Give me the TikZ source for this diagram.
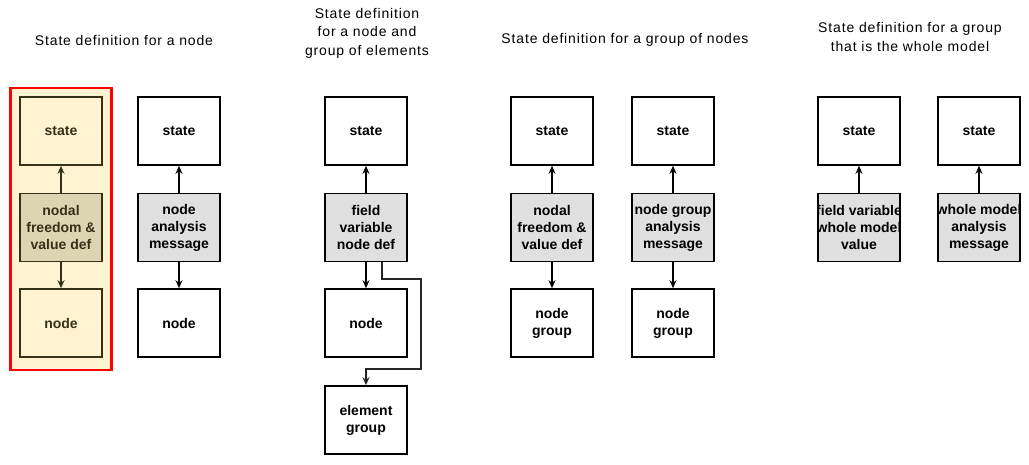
\documentclass[tikz,border=0pt]{standalone}
\usepackage{fontspec}
\setmainfont{Liberation Sans}
\newfontfamily\titlefont[LetterSpace=6]{Liberation Sans}
\usetikzlibrary{arrows.meta}
\definecolor{hlfill}{HTML}{FFF3D2}
\definecolor{hlmid}{HTML}{DDD5B2}
\definecolor{hlink}{HTML}{353018}
\definecolor{midgray}{HTML}{E0E0E0}
\begin{document}
\begin{tikzpicture}[x=1pt,y=-1pt,
  box/.style={draw=black, line width=1.6pt, fill=white, minimum width=82pt, minimum height=68pt,
    inner sep=0pt, align=center, font=\fontsize{14}{17}\selectfont\bfseries},
  midbox/.style={box, fill=midgray},
  hlbox/.style={box, draw=hlink, text=hlink, fill=hlfill},
  hlmidbox/.style={hlbox, fill=hlmid},
  title/.style={align=center, font=\titlefont\fontsize{14}{18.5}\selectfont, inner sep=0pt},
  link/.style={line width=1.8pt, -{Stealth[length=8pt,width=7pt]}},
  hllink/.style={link, draw=hlink, line width=2pt},
  elbow/.style={line width=1.8pt, draw=black!85, -{Stealth[length=8pt,width=7pt]}}
]
\useasboundingbox (0,0) rectangle (1029,465);

% titles
\node[title] (t1) at (124,40) {State definition for a node};
\node[title] (t2) at (367,33) {State definition\\for a node and\\group of elements};
\node[title] (t3) at (625,40) {State definition for a group of nodes};
\node[title] (t4) at (910,37) {State definition for a group\\that is the whole model};

% highlighted column
\node[draw=red, line width=2.6pt, fill=hlfill, minimum width=101pt, minimum height=282pt, inner sep=0pt]
  (hl) at (61,229) {};
\node[hlbox] (s1) at (61,131) {state};
\node[hlmidbox] (m1) at (61,227.5) {nodal\\freedom \&\\value def};
\node[hlbox] (n1) at (61,323) {node};
\draw[hllink] (m1) -- (s1);
\draw[hllink] (m1) -- (n1);

% node analysis message
\node[box] (s2) at (179,131) {state};
\node[midbox] (m2) at (179,227.5) {node\\analysis\\message};
\node[box] (n2) at (179,323) {node};
\draw[link] (m2) -- (s2);
\draw[link] (m2) -- (n2);

% node and group of elements
\node[box] (s3) at (366,131) {state};
\node[midbox] (m3) at (366,227.5) {field\\variable\\node def};
\node[box] (n3) at (366,323) {node};
\node[box] (e3) at (366,420) {element\\group};
\draw[link] (m3) -- (s3);
\draw[link] (m3) -- (n3);
\coordinate (k1) at (382,279);
\coordinate (k2) at (421,279);
\coordinate (k3) at (421,369);
\coordinate (k4) at (366,369);
\draw[elbow] (m3.south -| k1) -- (k1) -- (k2) -- (k3) -- (k4) -- (e3.north);

% group of nodes
\node[box] (s4) at (552,131) {state};
\node[midbox] (m4) at (552,227.5) {nodal\\freedom \&\\value def};
\node[box] (n4) at (552,323) {node\\group};
\draw[link] (m4) -- (s4);
\draw[link] (m4) -- (n4);

\node[box] (s5) at (673,131) {state};
\node[midbox] (m5) at (673,227.5) {node group\\analysis\\message};
\node[box] (n5) at (673,323) {node\\group};
\draw[link] (m5) -- (s5);
\draw[link] (m5) -- (n5);

% whole model
\node[box] (s6) at (859,131) {state};
\node[midbox] (m6) at (859,227.5) {};
\begin{scope}
  \clip (m6.south west) rectangle (m6.north east);
  \node[font=\fontsize{14}{17}\selectfont\bfseries, align=center, inner sep=0pt] (m6t) at (m6.center)
    {field variable\\whole model\\value};
\end{scope}
\draw[link] (m6) -- (s6);

\node[box] (s7) at (979,131) {state};
\node[midbox] (m7) at (979,227.5) {};
\begin{scope}
  \clip (m7.south west) rectangle (m7.north east);
  \node[font=\fontsize{14}{17}\selectfont\bfseries, align=center, inner sep=0pt] (m7t) at (m7.center)
    {whole model\\analysis\\message};
\end{scope}
\draw[link] (m7) -- (s7);
\end{tikzpicture}
\end{document}
